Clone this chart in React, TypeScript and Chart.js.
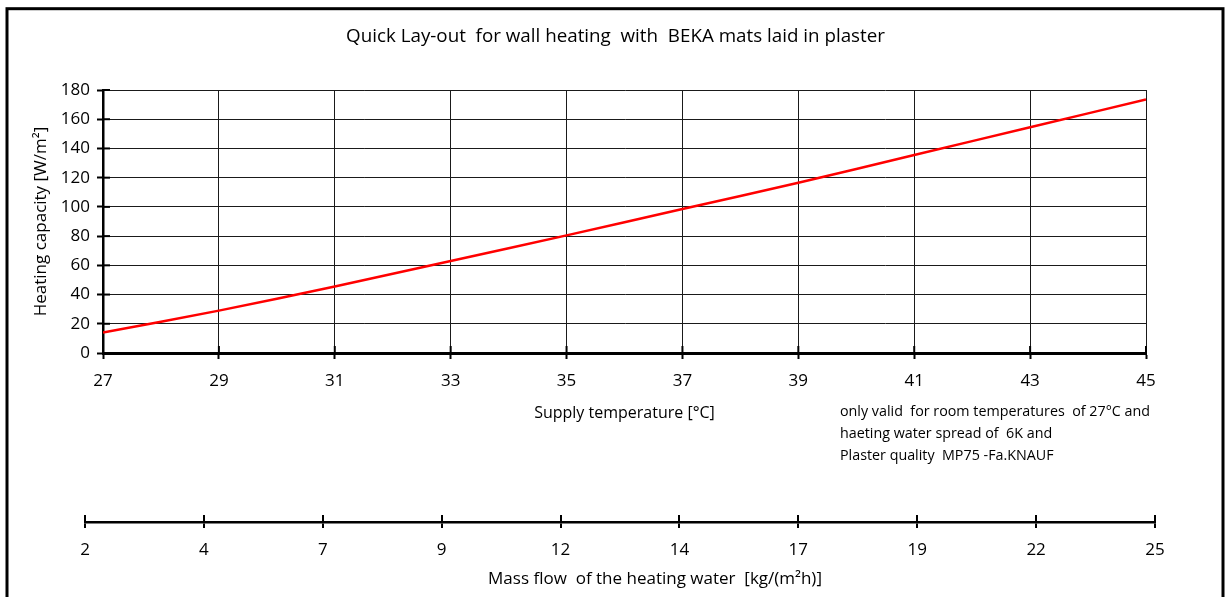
import React, { useEffect, useRef } from "react";
import { Chart, registerables } from "chart.js";

Chart.register(...registerables);

const temperatures = [27, 29, 31, 33, 35, 37, 39, 41, 43, 45];
const capacity = [14, 29, 45.5, 63, 80.5, 98.5, 116.5, 135.5, 154.5, 173.5];
const massFlowLabels = ["2", "4", "7", "9", "12", "14", "17", "19", "22", "25"];
const yMin = 0;
const yMax = 180;
const yStep = 20;
const xMin = 27;
const xMax = 45;
const xStep = 2;

const chartTitle = "Quick Lay-out  for wall heating  with  BEKA mats laid in plaster";
const xTitle = "Supply temperature [°C]";
const yTitle = "Heating capacity [W/m²]";
const massFlowTitle = "Mass flow  of the heating water  [kg/(m²h)]";
const noteLines = [
  "only valid  for room temperatures  of 27°C and",
  "haeting water spread of  6K and",
  "Plaster quality  MP75 -Fa.KNAUF",
];

const FONT = "'Open Sans', 'DejaVu Sans', sans-serif";
const W = 1231;
const H = 597;

const framePlugin = {
  id: "frame",
  afterDraw(chart: any) {
    const ctx = chart.ctx;
    ctx.save();
    ctx.strokeStyle = "#000";
    ctx.lineWidth = 3;
    ctx.strokeRect(7, 8.7, 1216, 700);
    ctx.restore();
  },
};

const textPlugin = {
  id: "texts",
  afterDraw(chart: any) {
    const ctx = chart.ctx;
    ctx.save();
    ctx.fillStyle = "#000";
    ctx.textBaseline = "middle";
    ctx.textAlign = "center";
    ctx.font = `18.8px ${FONT}`;
    ctx.fillText(chartTitle, 615.5, 37);
    ctx.textAlign = "left";
    ctx.font = `14.3px ${FONT}`;
    noteLines.forEach((l, i) => ctx.fillText(l, 840, 412 + i * 22));
    ctx.textAlign = "center";
    ctx.font = `17px ${FONT}`;
    ctx.fillText(massFlowTitle, 655, 579);
    ctx.restore();
  },
};

const innerTicksPlugin = {
  id: "innerTicks",
  afterDatasetsDraw(chart: any) {
    const ctx = chart.ctx;
    const { left, bottom } = chart.chartArea;
    const xs = chart.scales.x;
    const ys = chart.scales.y;
    ctx.save();
    ctx.strokeStyle = "#000";
    ctx.lineWidth = 2;
    xs.ticks.forEach((t: any) => {
      const px = xs.getPixelForValue(t.value);
      ctx.beginPath();
      ctx.moveTo(px, bottom);
      ctx.lineTo(px, bottom - 7);
      ctx.stroke();
    });
    ys.ticks.forEach((t: any) => {
      const py = ys.getPixelForValue(t.value);
      ctx.beginPath();
      ctx.moveTo(left, py);
      ctx.lineTo(left + 7, py);
      ctx.stroke();
    });
    ctx.restore();
  },
};

export default function App() {
  const mainRef = useRef<HTMLCanvasElement>(null);
  const flowRef = useRef<HTMLCanvasElement>(null);

  useEffect(() => {
    const main = new Chart(mainRef.current!, {
      type: "line",
      data: {
        datasets: [
          {
            data: temperatures.map((t, i) => ({ x: t, y: capacity[i] })),
            borderColor: "#ff0000",
            borderWidth: 2.5,
            pointRadius: 0,
            tension: 0.3,
            fill: false,
          },
        ],
      },
      options: {
        animation: false,
        responsive: false,
        layout: { padding: { left: 0, top: 90, right: 85, bottom: 0 } },
        plugins: { legend: { display: false }, tooltip: { enabled: false } },
        scales: {
          x: {
            type: "linear",
            min: xMin,
            max: xMax,
            ticks: { stepSize: xStep, padding: 12, color: "#000", font: { family: FONT, size: 17 } },
            grid: { color: "#1a1a1a", lineWidth: 1, tickLength: 6, tickWidth: 2, tickColor: "#000" },
            border: { color: "#000", width: 3 },
            title: {
              display: true,
              text: xTitle,
              color: "#000",
              font: { family: FONT, size: 16 },
              padding: { top: 0, bottom: 174 },
            },
            afterFit(s: any) {
              s.height = 244;
            },
          },
          y: {
            type: "linear",
            min: yMin,
            max: yMax,
            ticks: { stepSize: yStep, padding: 7, color: "#000", font: { family: FONT, size: 17 } },
            grid: { color: "#1a1a1a", lineWidth: 1, tickLength: 6, tickWidth: 2, tickColor: "#000" },
            border: { color: "#000", width: 2.5 },
            title: {
              display: true,
              text: yTitle,
              color: "#000",
              font: { family: FONT, size: 17 },
              padding: { top: 31, bottom: 0 },
            },
            afterFit(s: any) {
              s.width = 103;
            },
          },
        },
      },
      plugins: [framePlugin, textPlugin, innerTicksPlugin],
    } as any);

    const flow = new Chart(flowRef.current!, {
      type: "line",
      data: { labels: massFlowLabels, datasets: [] },
      options: {
        animation: false,
        responsive: false,
        layout: { padding: { left: 85, right: 76, top: 515, bottom: 0 } },
        plugins: { legend: { display: false }, tooltip: { enabled: false } },
        scales: {
          x: {
            type: "category",
            offset: false,
            ticks: { padding: 12, color: "#000", font: { family: FONT, size: 17 }, autoSkip: false, maxRotation: 0 },
            grid: { color: "#000", lineWidth: 2, tickLength: 6, drawOnChartArea: true },
            border: { color: "#000", width: 2.5 },
            afterFit(s: any) {
              s.height = 75;
            },
          },
          y: { display: false },
        },
      },
    } as any);

    return () => {
      main.destroy();
      flow.destroy();
    };
  }, []);

  return (
    <div style={{ position: "fixed", left: 0, top: 0, width: W, height: H, background: "#fff" }}>
      <canvas ref={mainRef} width={W} height={H} style={{ position: "absolute", left: 0, top: 0 }} />
      <canvas ref={flowRef} width={W} height={H} style={{ position: "absolute", left: 0, top: 0, pointerEvents: "none" }} />
    </div>
  );
}
